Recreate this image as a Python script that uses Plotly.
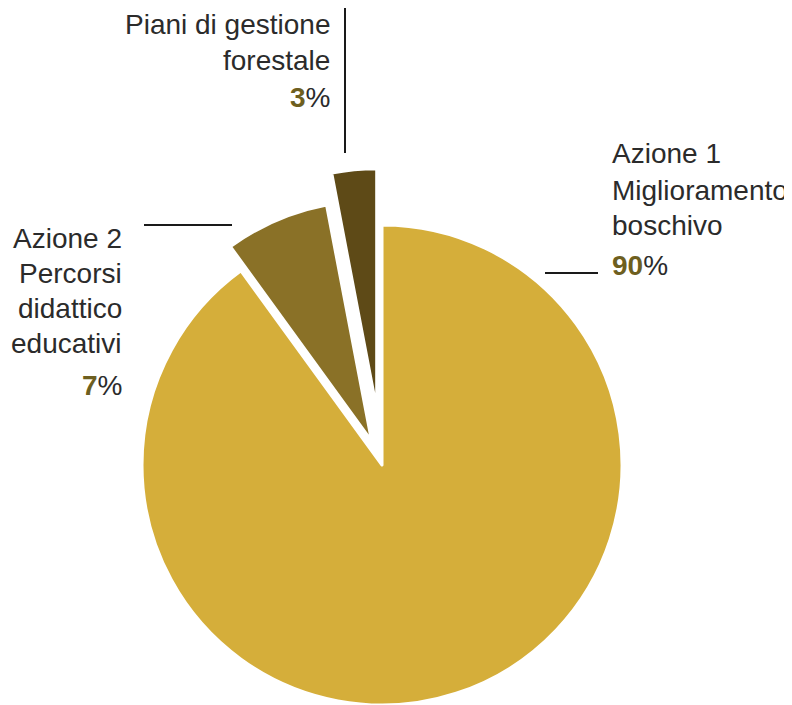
import numpy as np
import plotly.graph_objects as go

# slice data
labels = ["Azione 1 Miglioramento boschivo",
          "Azione 2 Percorsi didattico educativi",
          "Piani di gestione forestale"]
label_lines = [["Azione 1", "Miglioramento", "boschivo"],
               ["Azione 2", "Percorsi", "didattico", "educativi"],
               ["Piani di gestione", "forestale"]]
values = [90, 7, 3]
colors = ["#D5AE3A", "#8A7127", "#5E4A17"]

W, H = 792, 705
PAGE = 8  # body margin of the html page
cx, cy, r = 382, 465, 240
pulls = [0, 0.11, 0.235]
FONT = "Liberation Sans, Arial, sans-serif"
TXT = "#2B2B2B"
NUM = "#6E5F1F"
SIZE = 28


def px_x(x):
    return (x - PAGE) / W


def px_y(y):
    return 1 - (y - PAGE) / H


vals = np.array(values, dtype=float)
mids = (np.cumsum(vals) - vals / 2) / vals.sum() * 2 * np.pi

fig = go.Figure()
for i in range(len(values)):
    d = pulls[i] * r
    x0 = cx + d * np.sin(mids[i])
    y0 = cy - d * np.cos(mids[i])
    slice_colors = ["rgba(0,0,0,0)"] * len(values)
    slice_colors[i] = colors[i]
    widths = [0] * len(values)
    widths[i] = 3
    fig.add_trace(go.Pie(
        labels=labels, values=values, sort=False,
        direction="clockwise", rotation=0,
        marker=dict(colors=slice_colors, line=dict(color="white", width=widths)),
        textinfo="none", hoverinfo="skip", showlegend=False,
        domain=dict(x=[max(0, px_x(x0 - r)), min(1, px_x(x0 + r))],
                    y=[max(0, px_y(y0 + r)), min(1, px_y(y0 - r))]),
    ))

# label blocks: anchor x, xanchor, baselines of each line (px)
blocks = [
    (611, "left", [163, 200, 235, 275]),
    (123, "right", [248, 283, 318, 353, 395]),
    (331, "right", [34, 70, 107]),
]

annotations = []
for i, (ax, anchor, bases) in enumerate(blocks):
    lines = label_lines[i] + [f"<b><span style='color:{NUM}'>{values[i]}</span></b>%"]
    for txt, b in zip(lines, bases):
        annotations.append(dict(
            text=txt, x=px_x(ax), y=px_y(b - 0.35 * SIZE),
            xref="paper", yref="paper", xanchor=anchor, yanchor="middle",
            showarrow=False, borderpad=0,
            font=dict(family=FONT, size=SIZE, color=TXT),
        ))

# leader lines
leaders = [(545, 273, 598, 273), (144, 225, 232, 225), (345, 8, 345, 153)]
shapes = [dict(type="line", xref="paper", yref="paper",
               x0=px_x(a), y0=px_y(b), x1=px_x(c), y1=px_y(d),
               line=dict(color="#1A1A1A", width=2))
          for a, b, c, d in leaders]

fig.update_layout(
    width=W, height=H,
    margin=dict(t=0, b=0, l=0, r=0),
    paper_bgcolor="white", plot_bgcolor="white",
    annotations=annotations, shapes=shapes,
)

fig.write_html("out.html")
